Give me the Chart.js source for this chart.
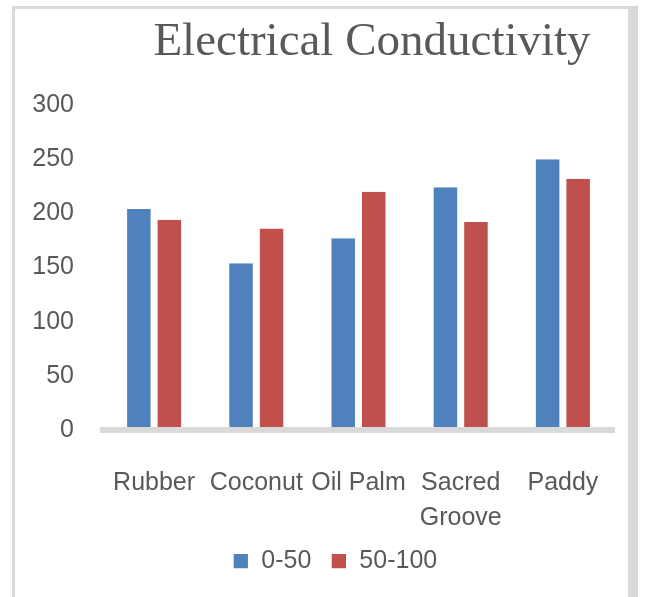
<!DOCTYPE html>
<html>
<head>
<meta charset="utf-8">
<script src="https://cdn.jsdelivr.net/npm/chart.js@4/dist/chart.umd.min.js"></script>
<style>
  html, body { margin: 0; padding: 0; background: #ffffff; }
  #wrap { position: relative; width: 653px; height: 597px; overflow: hidden; }
  /* light grey frame around the chart (open at the bottom) */
  #frame {
    position: absolute; left: 12px; top: 6px; width: 626px; height: 600px;
    border-left: 3px solid #d9d9d9; border-top: 3px solid #d9d9d9; border-right: 10px solid #d9d9d9;
    box-sizing: border-box;
  }
  canvas { position: absolute; left: 0; top: 0; }
</style>
</head>
<body>
<div id="wrap">
  <div id="frame"></div>
  <canvas id="chart" width="653" height="597"></canvas>
</div>
<script>
const TITLE = 'Electrical Conductivity';
const categories = ['Rubber', 'Coconut', 'Oil Palm', ['Sacred', 'Groove'], 'Paddy'];
const series0to50 = [204, 154, 177, 224, 250];
const series50to100 = [194, 186, 220, 192, 232];
const seriesNames = ['0-50', '50-100'];
const yTicks = [0, 50, 100, 150, 200, 250, 300];

const TEXT = '#595959';
const FONT = '"Liberation Sans", Arial, sans-serif';

// Title drawn over the plot region, a little right of centre
const titlePlugin = {
  id: 'customTitle',
  afterDraw(chart) {
    const ctx = chart.ctx;
    ctx.save();
    ctx.font = '47px "Liberation Serif", "Times New Roman", serif';
    ctx.fillStyle = TEXT;
    ctx.textAlign = 'center';
    ctx.textBaseline = 'alphabetic';
    ctx.fillText(TITLE, 372, 55);
    ctx.restore();
  }
};

// Shift the legend block slightly right of its default slot
const legendNudge = {
  id: 'legendNudge',
  afterLayout(chart) {
    const lg = chart.legend;
    if (!lg) return;
    lg.left += 12; lg.right += 12;
    lg.top -= 1; lg.bottom -= 1;
  }
};

const barBorder = { left: 3.5, right: 3.5, top: 0, bottom: 0 };

new Chart(document.getElementById('chart'), {
  type: 'bar',
  data: {
    labels: categories,
    datasets: [
      { label: seriesNames[0], data: series0to50, backgroundColor: '#4f81bd',
        borderColor: '#ffffff', borderWidth: barBorder, borderSkipped: false },
      { label: seriesNames[1], data: series50to100, backgroundColor: '#c0504d',
        borderColor: '#ffffff', borderWidth: barBorder, borderSkipped: false }
    ]
  },
  options: {
    responsive: false,
    animation: false,
    devicePixelRatio: 1,
    layout: { padding: { left: 32, right: 39, top: 105, bottom: 12.5 } },
    datasets: { bar: { categoryPercentage: 0.597, barPercentage: 1 } },
    plugins: {
      title: { display: false },
      tooltip: { enabled: false },
      legend: {
        position: 'bottom',
        labels: {
          boxWidth: 16, boxHeight: 16, padding: 19.5,
          color: TEXT, font: { family: FONT, size: 25 }
        }
      }
    },
    scales: {
      x: {
        afterFit(scale) { scale.height = 100; scale.paddingLeft = 0; scale.paddingRight = 0; },
        grid: { display: false, drawTicks: false },
        border: { display: true, color: '#d9d9d9', width: 6, z: 1 },
        ticks: {
          color: TEXT, padding: 36, maxRotation: 0, autoSkip: false,
          font: { family: FONT, size: 25, lineHeight: 1.4 }
        }
      },
      y: {
        min: yTicks[0], max: yTicks[yTicks.length - 1],
        afterFit(scale) { scale.width = 71; },
        afterBuildTicks(scale) { scale.ticks = yTicks.map(v => ({ value: v })); },
        grid: { display: false, drawTicks: false },
        border: { display: false },
        ticks: {
          color: TEXT, padding: 29,
          font: { family: FONT, size: 25 }
        }
      }
    }
  },
  plugins: [titlePlugin, legendNudge]
});
</script>
</body>
</html>
